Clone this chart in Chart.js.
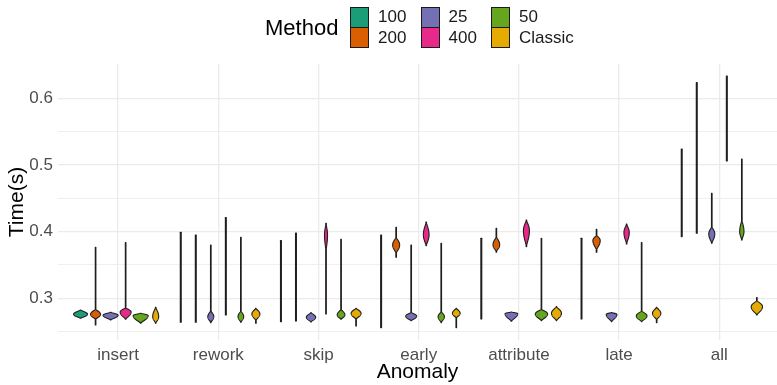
<!DOCTYPE html>
<html>
<head>
<meta charset="utf-8">
<script src="https://cdn.jsdelivr.net/npm/chart.js@4"></script>
<style>
  body { margin: 0; background: #fff; }
  #wrap { position: relative; width: 777px; height: 385px; font-family: "Liberation Sans", Arial, sans-serif; }
  #legend { position: absolute; left: 0; top: 0; width: 777px; height: 60px; }
  #legend .title { position: absolute; left: 265px; top: 15px; font-size: 22px; color: #000; line-height: 26px; }
  #legend .key { position: absolute; width: 19px; height: 21px; border: 1px solid #1a1a1a; box-sizing: border-box; }
  #legend .lab { position: absolute; font-size: 17px; color: #1a1a1a; line-height: 20px; }
</style>
</head>
<body>
<div id="wrap">
  <canvas id="violinChart"></canvas>
  <div id="legend"><div class="title">Method</div></div>
</div>
<script>
// Categories and methods
const categories = ['insert', 'rework', 'skip', 'early', 'attribute', 'late', 'all'];
const methods = ['100', '200', '25', '400', '50', 'Classic'];
const colors = ['#1B9E77', '#D95F02', '#7570B3', '#E7298A', '#66A61E', '#E6AB02'];

// y axis ticks
const yMajor = [0.3, 0.4, 0.5, 0.6];
const yMinor = [0.25, 0.35, 0.45, 0.55];

// Violins per method, one per category:
// [min, max, body low, density peak, body high, peak width (x units)]
// width 0 = spread so wide it only shows as a line
const v100 = [
    [0.270, 0.2825, 0.270, 0.276, 0.2825, 0.14],
    [0.264, 0.399, null, null, null, 0],
    [0.265, 0.3865, null, null, null, 0],
    [0.256, 0.395, null, null, null, 0],
    [0.269, 0.390, null, null, null, 0],
    [0.269, 0.390, null, null, null, 0],
    [0.3925, 0.524, null, null, null, 0]
];
const v200 = [
    [0.260, 0.3765, 0.2685, 0.276, 0.2835, 0.10],
    [0.264, 0.395, null, null, null, 0],
    [0.266, 0.398, null, null, null, 0],
    [0.3615, 0.4065, 0.3675, 0.380, 0.3915, 0.07],
    [0.369, 0.405, 0.370, 0.380, 0.3925, 0.067],
    [0.369, 0.4035, 0.3725, 0.3865, 0.395, 0.073],
    [0.3975, 0.6234, null, null, null, 0]
];
const v25 = [
    [0.2675, 0.279, 0.2675, 0.2745, 0.279, 0.15],
    [0.2635, 0.380, 0.2635, 0.2725, 0.281, 0.06],
    [0.2645, 0.2785, 0.2645, 0.2715, 0.2785, 0.093],
    [0.2665, 0.380, 0.2665, 0.273, 0.279, 0.11],
    [0.2655, 0.2795, 0.2655, 0.277, 0.2795, 0.127],
    [0.265, 0.2785, 0.265, 0.276, 0.2785, 0.107],
    [0.3825, 0.4575, 0.3825, 0.3965, 0.4075, 0.06]
];
const v400 = [
    [0.2685, 0.3835, 0.2685, 0.2795, 0.2855, 0.11],
    [0.275, 0.421, null, null, null, 0],
    [0.2765, 0.4125, 0.370, 0.395, 0.4125, 0.03],
    [0.379, 0.4145, 0.379, 0.395, 0.4145, 0.057],
    [0.3775, 0.4175, 0.3775, 0.4015, 0.4175, 0.06],
    [0.3815, 0.4115, 0.3815, 0.3985, 0.4115, 0.053],
    [0.506, 0.6335, null, null, null, 0]
];
const v50 = [
    [0.2625, 0.2775, 0.2625, 0.274, 0.2775, 0.15],
    [0.264, 0.3915, 0.264, 0.2725, 0.281, 0.057],
    [0.2685, 0.3885, 0.2685, 0.275, 0.2835, 0.077],
    [0.2635, 0.3825, 0.2635, 0.2725, 0.280, 0.063],
    [0.2665, 0.390, 0.2665, 0.2765, 0.2835, 0.123],
    [0.265, 0.3835, 0.265, 0.2735, 0.281, 0.107],
    [0.3875, 0.509, 0.3875, 0.400, 0.4175, 0.043]
];
const vClassic = [
    [0.2625, 0.2865, 0.2625, 0.2725, 0.2865, 0.06],
    [0.2625, 0.285, 0.267, 0.2765, 0.285, 0.08],
    [0.2585, 0.285, 0.2685, 0.2775, 0.285, 0.10],
    [0.256, 0.285, 0.2705, 0.2775, 0.285, 0.077],
    [0.2665, 0.2875, 0.2665, 0.2775, 0.2875, 0.10],
    [0.2635, 0.2865, 0.268, 0.2775, 0.2865, 0.083],
    [0.275, 0.301, 0.275, 0.2875, 0.2965, 0.113]
];
const violinSets = [v100, v200, v25, v400, v50, vClassic];

const DODGE = 0.15;

function slotX(i, j) {
    return i + (j - (methods.length - 1) / 2) * DODGE;
}

// width profile of a violin at value val
function halfWidth(v, val, unit) {
    const [lo, hi, bLo, mode, bHi, w] = v;
    if (!w) return 0.45;
    let h = 0;
    if (val >= bLo && val <= bHi) {
        const t = val > mode ? (val - mode) / (bHi - mode || 1) : (mode - val) / (mode - bLo || 1);
        h = w * unit / 2 * Math.pow(1 - t * t, 1.4);
    }
    return Math.max(0.3, h);
}

const violinPlugin = {
    id: 'violins',
    afterDatasetsDraw(chart) {
        const { ctx, scales: { x, y } } = chart;
        const unit = x.getPixelForValue(1) - x.getPixelForValue(0);
        ctx.save();
        chart.data.datasets.forEach((ds, j) => {
            ds.violins.forEach((v, i) => {
                const cx = x.getPixelForValue(slotX(i, j));
                const top = y.getPixelForValue(v[1]);
                const bot = y.getPixelForValue(v[0]);
                const right = [];
                for (let py = top; py <= bot; py += 0.25) {
                    right.push([py, halfWidth(v, y.getValueForPixel(py), unit)]);
                }
                right.push([bot, halfWidth(v, v[0], unit)]);
                ctx.beginPath();
                right.forEach(([py, h], k) => k ? ctx.lineTo(cx + h, py) : ctx.moveTo(cx + h, py));
                for (let k = right.length - 1; k >= 0; k--) ctx.lineTo(cx - right[k][1], right[k][0]);
                ctx.closePath();
                ctx.fillStyle = v[5] ? ds.backgroundColor : '#1f1f1f';
                ctx.fill();
                ctx.lineWidth = 1.1;
                ctx.strokeStyle = '#1f1f1f';
                ctx.lineJoin = 'round';
                ctx.stroke();
            });
        });
        ctx.restore();
    }
};

// HTML legend, filled column by column
const legend = document.getElementById('legend');
methods.forEach((m, j) => {
    const col = Math.floor(j / 2), row = j % 2;
    const key = document.createElement('div');
    key.className = 'key';
    key.style.left = (350 + col * 70.5) + 'px';
    key.style.top = (7 + row * 20) + 'px';
    key.style.background = colors[j];
    legend.appendChild(key);
    const lab = document.createElement('div');
    lab.className = 'lab';
    lab.textContent = m;
    lab.style.left = (378 + col * 70.5) + 'px';
    lab.style.top = (7 + row * 21) + 'px';
    legend.appendChild(lab);
});

const ctx = document.getElementById('violinChart');
new Chart(ctx, {
    type: 'scatter',
    data: {
        datasets: methods.map((m, j) => ({
            label: m,
            data: violinSets[j].map((v, i) => ({ x: slotX(i, j), y: v[3] !== null ? v[3] : (v[0] + v[1]) / 2 })),
            violins: violinSets[j],
            backgroundColor: colors[j],
            pointRadius: 0,
            pointHoverRadius: 0
        }))
    },
    options: {
        responsive: true,
        maintainAspectRatio: false,
        animation: false,
        layout: { padding: { top: 64, right: 0, bottom: 0, left: 0 } },
        plugins: {
            legend: { display: false },
            tooltip: { enabled: false }
        },
        scales: {
            x: {
                type: 'linear',
                min: -0.6,
                max: 6.576,
                afterBuildTicks: s => { s.ticks = categories.map((c, i) => ({ value: i })); },
                afterFit: s => { s.height = 45; },
                ticks: {
                    callback: v => categories[v],
                    color: '#4D4D4D',
                    font: { family: '"Liberation Sans", Arial, sans-serif', size: 17 },
                    padding: 5,
                    maxRotation: 0,
                    autoSkip: false
                },
                grid: { color: '#EBEBEB', lineWidth: 1.3, drawTicks: false },
                border: { display: false },
                title: {
                    display: true,
                    text: 'Anomaly',
                    color: '#000',
                    font: { family: '"Liberation Sans", Arial, sans-serif', size: 21 },
                    padding: { top: 0, bottom: 0 }
                }
            },
            y: {
                min: 0.2374,
                max: 0.6514,
                afterBuildTicks: s => {
                    s.ticks = yMinor.concat(yMajor).sort((a, b) => a - b).map(v => ({ value: v }));
                },
                afterFit: s => { s.width = 58; },
                ticks: {
                    callback: v => yMajor.includes(v) ? v.toFixed(1) : '',
                    color: '#4D4D4D',
                    font: { family: '"Liberation Sans", Arial, sans-serif', size: 17 },
                    padding: 5,
                    autoSkip: false
                },
                grid: {
                    color: '#EBEBEB',
                    lineWidth: c => yMajor.includes(c.tick.value) ? 1.3 : 0.8,
                    drawTicks: false
                },
                border: { display: false },
                title: {
                    display: true,
                    text: 'Time(s)',
                    color: '#000',
                    font: { family: '"Liberation Sans", Arial, sans-serif', size: 21 },
                    padding: { top: 5, bottom: 0 }
                }
            }
        }
    },
    plugins: [violinPlugin]
});
</script>
</body>
</html>
